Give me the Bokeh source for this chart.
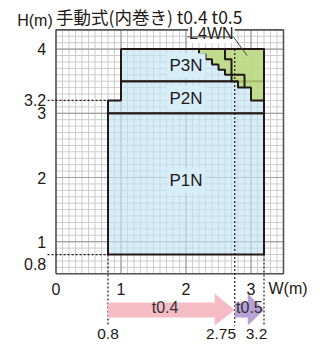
import numpy as np
from bokeh.plotting import figure
from bokeh.models import Range1d
from bokeh.core.properties import value
from bokeh.embed import file_html
from bokeh.resources import INLINE

# ---------------- data ----------------
title_text = "手動式(内巻き) t0.4 t0.5"
x_axis_title = "W(m)"
y_axis_title = "H(m)"
W_MIN, W_MAX = 0.0, 3.5
H_MIN, H_MAX = 0.5, 4.3
x_ticks = [0, 1, 2, 3]
x_tick_labels = ["0", "1", "2", "3"]
y_ticks = [4, 3.2, 3, 2, 1, 0.8]
y_tick_labels = ["4", "3.2", "3", "2", "1", "0.8"]

region_names = ["P1N", "P2N", "P3N"]
region_xs = [[0.8, 3.2, 3.2, 0.8],
             [0.8, 3.2, 3.2, 1.0, 1.0, 0.8],
             [1.0, 3.2, 3.2, 1.0]]
region_ys = [[0.8, 0.8, 3.0, 3.0],
             [3.0, 3.0, 3.5, 3.5, 3.2, 3.2],
             [3.5, 3.5, 4.0, 4.0]]
region_label_x = [2.0, 2.0, 2.0]
region_label_y = [1.95, 3.23, 3.74]

l4wn_name = "L4WN"
l4wn_x = [2.2, 3.2, 3.2, 3.0, 3.0, 2.8, 2.8, 2.7, 2.7, 2.6, 2.6, 2.5, 2.5, 2.4, 2.4, 2.3, 2.3, 2.2]
l4wn_y = [4.0, 4.0, 3.2, 3.2, 3.4, 3.4, 3.5, 3.5, 3.6, 3.6, 3.68, 3.68, 3.76, 3.76, 3.84, 3.84, 3.92, 3.92]
l4wn_split_x = [2.6, 2.6, 2.7, 2.7, 2.9, 2.9]
l4wn_split_y = [4.0, 3.84, 3.84, 3.6, 3.6, 3.4]

thickness_names = ["t0.4", "t0.5"]
thickness_start = [0.8, 2.75]
thickness_end = [2.75, 3.2]
width_marks = [0.8, 2.75, 3.2]
width_mark_labels = ["0.8", "2.75", "3.2"]
height_marks = [3.2, 0.8]

# ---------------- styling ----------------
INK = "#231815"
FONT = "Liberation Sans"
JP = "Noto Sans CJK JP"

W, H = 322, 345
PX_X = 65.0
PX_Y = 64.2
x0_px = 55.5
ybot_px = 273.3
x_start = -x0_px / PX_X
x_end = x_start + W / PX_X
y_top = H_MIN + ybot_px / PX_Y
y_bottom = y_top - H / PX_Y

p = figure(width=W, height=H, output_backend="svg", toolbar_location=None,
           x_range=Range1d(x_start, x_end), y_range=Range1d(y_bottom, y_top),
           min_border=0, outline_line_color=None)
p.axis.visible = False
p.grid.visible = False
p.background_fill_color = "white"
p.border_fill_color = "white"

# grid
minor_x = np.round(np.arange(W_MIN, W_MAX + 1e-9, 0.1), 2)
minor_y = np.round(np.arange(H_MIN, H_MAX + 1e-9, 0.1), 2)
p.segment(x0=minor_x, x1=minor_x, y0=H_MIN, y1=H_MAX, line_color="#cccccc", line_width=1)
p.segment(x0=W_MIN, x1=W_MAX, y0=minor_y, y1=minor_y, line_color="#cccccc", line_width=1)
maj_x = [v for v in minor_x if abs(v - round(v)) < 1e-6 and W_MIN < v < W_MAX]
maj_y = [v for v in minor_y if abs(v - round(v)) < 1e-6 and H_MIN < v < H_MAX]
p.segment(x0=maj_x, x1=maj_x, y0=H_MIN, y1=H_MAX, line_color="#a0a0a0", line_width=1.2)
p.segment(x0=W_MIN, x1=W_MAX, y0=maj_y, y1=maj_y, line_color="#a0a0a0", line_width=1.2)

# regions
p.patches(xs=region_xs, ys=region_ys, fill_color="#c2e4f5", fill_alpha=0.65,
          line_color=INK, line_width=2)
p.patch(l4wn_x, l4wn_y, fill_color="#bcd87a", fill_alpha=0.85, line_color=INK, line_width=2)
p.line(l4wn_split_x, l4wn_split_y, line_color=INK, line_width=2)

# frame border
p.line([W_MIN, W_MAX, W_MAX, W_MIN, W_MIN], [H_MIN, H_MIN, H_MAX, H_MAX, H_MIN],
       line_color="#555555", line_width=1.6)

# dotted guides
lab_x = -0.15
p.segment(x0=[lab_x + 0.02] * len(height_marks), x1=[0.8] * len(height_marks),
          y0=height_marks, y1=height_marks, line_color=INK, line_width=1.2, line_dash="2 2")
guide_top = [0.8, 4.0, 0.8]
p.segment(x0=width_marks, x1=width_marks, y0=guide_top, y1=[-0.31] * 3,
          line_color=INK, line_width=1.2, line_dash="2 2")

# region labels
p.text(x=region_label_x, y=region_label_y, text=region_names, text_align="center",
       text_baseline="middle", text_font=value(FONT), text_font_size="17px",
       text_color=INK, background_fill_color="#d6eefa", padding=3)

# L4WN label with leader
p.text(x=[2.39], y=[4.24], text=[l4wn_name], text_align="center", text_baseline="middle",
       text_font=value(FONT), text_font_size="16px", text_color=INK,
       background_fill_color="white", padding=1)
p.line([2.02, 2.73, 2.94], [4.19, 4.19, 3.9], line_color="#444444", line_width=1)

# arrows
shaft_hi, shaft_lo = 0.053, -0.181
head_hi, head_lo = 0.193, -0.305
head_len = [0.31, 0.25]
cols = ["#f5bcc6", "#b9a0d5"]
axs, ays = [], []
for s, e, hl in zip(thickness_start, thickness_end, head_len):
    b = e - hl
    mid = (shaft_hi + shaft_lo) / 2
    axs.append([s, b, b, e, b, b, s])
    ays.append([shaft_hi, shaft_hi, head_hi, mid, head_lo, shaft_lo, shaft_lo])
p.patches(xs=axs, ys=ays, fill_color=cols, line_color=None)
txt_x = [thickness_start[0] + 0.45 * (thickness_end[0] - thickness_start[0]),
         (thickness_start[1] + thickness_end[1]) / 2]
p.text(x=txt_x, y=[-0.03, -0.03], text=thickness_names, text_align="center",
       text_baseline="middle", text_font=value(FONT), text_font_size="16px", text_color="#333333")

# width mark labels below arrows
p.text(x=[width_marks[0], width_marks[1] + 0.02, width_marks[2] + 0.05], y=[-0.43] * 3,
       text=width_mark_labels, text_align=["center", "right", "right"],
       text_baseline="middle", text_font=value(FONT), text_font_size="15.5px", text_color=INK)

# tick labels
p.text(x=x_ticks, y=[0.27] * len(x_ticks), text=x_tick_labels, text_align="center",
       text_baseline="middle", text_font=value(FONT), text_font_size="16px", text_color=INK)
ylab_y = [v if v != 0.8 else v - 0.14 for v in y_ticks]
p.text(x=[lab_x] * len(y_ticks), y=ylab_y, text=y_tick_labels, text_align="right",
       text_baseline="middle", text_font=value(FONT), text_font_size="16px", text_color=INK)

# axis titles and title
p.text(x=[3.57], y=[0.27], text=[x_axis_title], text_align="center", text_baseline="middle",
       text_font=value(FONT), text_font_size="16px", text_color=INK)
p.text(x=[-0.05], y=[4.44], text=[y_axis_title], text_align="right", text_baseline="middle",
       text_font=value(FONT), text_font_size="16px", text_color=INK)
p.text(x=[0.0], y=[4.505], text=[title_text], text_align="left", text_baseline="middle",
       text_font=value(JP), text_font_size="17.5px", text_color=INK)

open("out.html", "w").write(file_html(p, INLINE))
